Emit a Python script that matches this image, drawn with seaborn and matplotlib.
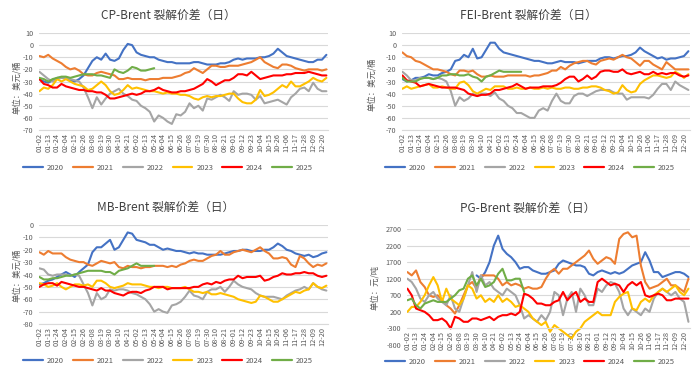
import numpy as np
import pandas as pd
import matplotlib
matplotlib.use("Agg")
import matplotlib.pyplot as plt
import seaborn as sns
from matplotlib.lines import Line2D

sns.set_theme(style="white")
plt.rcParams['font.family'] = ['Noto Sans CJK SC', 'DejaVu Sans']

# ---------------- data ----------------
years = ['2020', '2021', '2022', '2023', '2024', '2025']
colors = ['#4472C4', '#ED7D31', '#A5A5A5', '#FFC000', '#FF0000', '#70AD47']
xlabels = ['01-02', '01-13', '01-24', '02-04', '02-15', '02-26', '03-08', '03-19', '03-30',
           '04-10', '04-21', '05-02', '05-13', '05-24', '06-04', '06-15', '06-26', '07-08',
           '07-19', '07-30', '08-10', '08-21', '09-01', '09-12', '09-23', '10-04', '10-15',
           '10-26', '11-06', '11-17', '11-28', '12-09', '12-20']
label_step = 11      # days between x labels
sample_step = 5.5    # days between read points

# CP-Brent (USD/bbl)
cp_2020 = [-28, -30, -31, -29, -27, -27, -27, -29, -30, -28, -25, -19, -13, -10, -12, -7, -12, -13, -11, -4,
           1, 0, -6, -8, -9, -10, -10, -12, -13, -14, -14, -15, -15, -15, -15, -14, -14, -15, -16, -16,
           -16, -15, -15, -14, -12, -11, -12, -11, -11, -11, -10, -10, -9, -7, -3, -6, -9, -10, -11, -12,
           -13, -14, -14, -12, -12, -8]
cp_2021 = [-9, -10, -8, -11, -13, -15, -18, -20, -19, -21, -24, -25, -25, -23, -22, -23, -24, -25, -28, -28,
           -27, -28, -28, -28, -29, -28, -28, -28, -27, -27, -27, -26, -25, -23, -22, -19, -21, -23, -20, -17,
           -17, -18, -18, -17, -17, -17, -16, -15, -14, -12, -10, -14, -16, -18, -19, -16, -16, -17, -19, -20,
           -21, -20, -20, -20, -21, -20]
cp_2022 = [-22, -25, -28, -30, -28, -27, -27, -28, -29, -30, -35, -43, -52, -43, -49, -44, -40, -38, -36, -40,
           -42, -45, -46, -50, -52, -55, -63, -58, -60, -63, -65, -57, -58, -55, -48, -52, -50, -54, -44, -45,
           -43, -41, -43, -46, -38, -41, -40, -40, -41, -45, -42, -48, -47, -46, -45, -47, -49, -43, -40, -36,
           -35, -38, -31, -36, -38, -38]
cp_2023 = [-38, -35, -36, -33, -28, -30, -28, -30, -32, -33, -34, -37, -36, -33, -30, -33, -38, -41, -40, -37,
           -33, -36, -35, -36, -37, -38, -38, -39, -40, -39, -40, -40, -41, -41, -42, -44, -45, -43, -42, -43,
           -42, -42, -41, -40, -40, -44, -47, -48, -48, -45, -37, -42, -41, -39, -36, -33, -35, -30, -34, -34,
           -32, -30, -27, -29, -30, -27]
cp_2024 = [-28, -32, -33, -35, -35, -32, -34, -35, -36, -37, -37, -38, -38, -39, -39, -41, -44, -44, -43, -42,
           -41, -40, -41, -40, -38, -38, -37, -35, -37, -38, -39, -39, -38, -38, -37, -36, -34, -32, -28, -30,
           -33, -31, -29, -29, -27, -24, -24, -25, -22, -25, -28, -27, -26, -25, -25, -25, -24, -24, -23, -23,
           -23, -22, -23, -24, -25, -25]
cp_2025 = [-27, -28, -30, -28, -27, -26, -26, -27, -26, -25, -24, -24, -24, -25, -25, -26, -27, -20, -22, -23,
           -21, -18, -19, -21, -21, -20, -19]

# FEI-Brent (USD/bbl)
fei_2020 = [-28, -30, -29, -27, -27, -26, -24, -25, -25, -23, -22, -20, -13, -12, -8, -10, -3, -11, -10, -4,
            2, 2, -3, -6, -7, -8, -9, -10, -11, -12, -13, -13, -14, -15, -15, -14, -13, -14, -14, -14,
            -15, -14, -13, -13, -13, -11, -10, -10, -11, -10, -9, -9, -8, -6, -2, -5, -7, -9, -11, -10,
            -12, -11, -11, -10, -9, -5]
fei_2021 = [-6, -9, -10, -13, -14, -16, -18, -20, -20, -21, -22, -24, -25, -21, -21, -22, -21, -24, -26, -26,
            -25, -26, -26, -26, -25, -25, -25, -25, -25, -26, -25, -25, -24, -23, -21, -21, -18, -20, -17, -15,
            -14, -13, -13, -15, -16, -13, -12, -11, -12, -10, -8, -10, -11, -14, -17, -13, -13, -16, -18, -20,
            -14, -17, -20, -20, -20, -20]
fei_2022 = [-22, -25, -29, -29, -27, -27, -27, -28, -27, -28, -30, -38, -50, -43, -46, -44, -40, -42, -40, -40,
            -42, -39, -44, -46, -50, -52, -56, -56, -58, -60, -60, -54, -52, -54, -46, -40, -46, -48, -48, -42,
            -40, -40, -42, -40, -38, -37, -37, -37, -39, -40, -40, -45, -43, -43, -43, -43, -44, -41, -36, -32,
            -32, -37, -30, -33, -35, -37]
fei_2023 = [-36, -34, -36, -35, -34, -33, -32, -35, -35, -34, -35, -36, -36, -31, -30, -33, -38, -40, -38, -36,
            -37, -34, -34, -34, -36, -36, -35, -36, -36, -35, -36, -36, -35, -36, -35, -36, -36, -35, -35, -36,
            -36, -35, -35, -34, -34, -35, -37, -38, -40, -39, -33, -37, -39, -38, -32, -29, -27, -25, -25, -26,
            -27, -26, -22, -24, -27, -24]
fei_2024 = [-25, -29, -30, -31, -34, -33, -32, -33, -34, -35, -35, -35, -35, -36, -37, -40, -41, -42, -41, -41,
            -40, -37, -37, -36, -35, -34, -32, -34, -36, -35, -35, -35, -34, -34, -34, -33, -31, -28, -26, -26,
            -30, -28, -25, -28, -26, -22, -21, -21, -22, -22, -20, -23, -24, -23, -22, -24, -24, -22, -24, -23,
            -24, -23, -23, -25, -26, -25]
fei_2025 = [-27, -30, -30, -30, -28, -27, -27, -28, -27, -25, -25, -24, -24, -25, -25, -24, -26, -27, -30, -26,
            -25, -23, -21, -22, -22, -22, -22, -22]

# MB-Brent (USD/bbl)
mb_2020 = [-48, -47, -45, -44, -42, -40, -38, -40, -42, -38, -35, -32, -22, -18, -18, -15, -12, -20, -18, -12,
           -6, -7, -12, -13, -14, -16, -16, -18, -20, -19, -20, -21, -21, -22, -23, -22, -23, -23, -24, -24,
           -24, -24, -23, -22, -21, -21, -20, -20, -21, -21, -21, -20, -20, -18, -15, -17, -20, -21, -23, -24,
           -25, -24, -26, -25, -23, -22]
mb_2021 = [-22, -24, -21, -23, -23, -23, -26, -28, -29, -30, -30, -32, -33, -31, -29, -30, -31, -30, -34, -35,
           -33, -34, -34, -35, -34, -34, -33, -33, -33, -34, -33, -34, -32, -31, -29, -28, -29, -29, -27, -25,
           -24, -21, -24, -24, -22, -21, -20, -21, -22, -20, -18, -21, -23, -27, -27, -26, -27, -32, -34, -25,
           -27, -31, -34, -32, -33, -31]
mb_2022 = [-35, -36, -40, -41, -40, -40, -40, -41, -40, -41, -48, -55, -65, -55, -60, -58, -52, -53, -52, -52,
           -53, -55, -56, -58, -60, -64, -70, -68, -70, -71, -65, -64, -62, -58, -53, -57, -58, -60, -54, -52,
           -52, -50, -54, -50, -45, -48, -50, -51, -52, -55, -57, -58, -58, -58, -59, -60, -57, -55, -53, -52,
           -50, -52, -47, -50, -52, -53]
mb_2023 = [-47, -48, -50, -49, -47, -50, -52, -50, -48, -48, -49, -48, -50, -45, -45, -47, -50, -51, -50, -49,
           -47, -48, -48, -48, -49, -50, -50, -51, -50, -50, -51, -51, -51, -50, -52, -54, -54, -55, -54, -56,
           -56, -55, -56, -57, -58, -60, -61, -62, -63, -62, -57, -58, -60, -62, -62, -60, -58, -56, -54, -55,
           -53, -52, -47, -50, -51, -49]
mb_2024 = [-50, -48, -47, -47, -49, -46, -47, -48, -49, -50, -50, -51, -52, -53, -51, -53, -53, -55, -56, -57,
           -55, -54, -54, -55, -53, -52, -50, -50, -50, -52, -51, -51, -51, -51, -51, -50, -50, -48, -47, -48,
           -46, -47, -45, -44, -44, -41, -43, -42, -42, -42, -41, -45, -44, -42, -41, -39, -40, -40, -39, -39,
           -38, -39, -39, -41, -42, -41]
mb_2025 = [-42, -44, -44, -43, -43, -42, -41, -41, -40, -39, -38, -37, -37, -37, -37, -38, -38, -40, -37, -36,
           -35, -33, -31, -33, -33, -33, -33]

# PG-Brent (CNY/t); 2020 starts at read point 16
pg_2020_start = 16
pg_2020 = [1300, 1200, 1400, 1700, 2200, 2500, 2100, 1950, 1850, 1700, 1500, 1550, 1550, 1450, 1400, 1350,
           1350, 1400, 1450, 1650, 1750, 1700, 1650, 1600, 1600, 1550, 1350, 1300, 1400, 1450, 1400, 1350,
           1400, 1350, 1400, 1500, 1600, 1650, 1700, 2000, 1750, 1400, 1400, 1250, 1300, 1350, 1400, 1400,
           1350, 1250]
pg_2021 = [1400, 1300, 1450, 1100, 950, 700, 650, 700, 550, 400, 300, 150, 400, 700, 1000, 1100, 900, 1300,
           1300, 1300, 1300, 1200, 1000, 1100, 1000, 1050, 1000, 900, 950, 900, 900, 950, 1200, 1400, 1500,
           1350, 1500, 1500, 1600, 1700, 1800, 1900, 2050, 1800, 1650, 1750, 1850, 1800, 1650, 2400, 2550,
           2600, 2450, 2500, 1600, 1100, 900, 950, 1000, 1100, 1200, 1000, 1000, 900, 800, 1200]
pg_2022 = [1200, 1100, 900, 600, 500, 700, 800, 600, 500, 400, 700, 300, 200, 600, 1000, 1400, 800, 1300,
           1000, 1100, 900, 800, 700, 900, 800, 700, 400, 0, 100, 0, -100, 100, -50, 200, 800, 700, 100,
           600, 800, 200, 900, 700, 400, 400, 900, 800, 1000, 1100, 1050, 800, 300, 100, 300, 200, 100,
           300, 200, 600, 800, 900, 800, 700, 800, 600, 500, -100]
pg_2023 = [200, 350, 350, 500, 700, 1000, 1250, 1000, 500, 900, 600, 500, 400, 600, 1000, 900, 600, 700, 500,
           600, 500, 700, 500, 600, 500, 350, 400, 300, 200, 0, -100, -200, -100, -400, -200, -300, -400,
           -500, -600, -400, -300, -100, 0, 100, 200, 100, 100, 100, 500, 650, 750, 800, 300, 250, 500, 600,
           500, 700, 800, 900, 800, 900, 1000, 800, 700, 900]
pg_2024 = [900, 700, 300, 250, 200, 100, -50, -50, 0, -100, -300, 50, 0, -100, -100, 0, 0, -50, 0, 50, -50,
           50, 100, 100, 150, 100, 200, 750, 700, 600, 450, 450, 400, 400, 500, 550, 800, 550, 700, 800, 500,
           600, 500, 500, 1100, 1200, 1100, 1000, 1050, 1000, 800, 1000, 1100, 1000, 1100, 700, 650, 700,
           750, 700, 550, 550, 600, 600, 600, 600]
pg_2025 = [550, 600, 400, 300, 450, 500, 550, 500, 500, 500, 600, 700, 850, 900, 1200, 1300, 1000, 1200, 950,
           1000, 1100, 1350, 1500, 1150, 1150, 1200, 1200, 800]

panels = [
    dict(title='CP-Brent 裂解价差（日）', unit='单位：美元/桶',
         series=[(0, cp_2020), (0, cp_2021), (0, cp_2022), (0, cp_2023), (0, cp_2024), (0, cp_2025)],
         yticks=[-70, -60, -50, -40, -30, -20, -10, 0, 10], xaxis_at=-70),
    dict(title='FEI-Brent 裂解价差（日）', unit='单位：美元/桶',
         series=[(0, fei_2020), (0, fei_2021), (0, fei_2022), (0, fei_2023), (0, fei_2024), (0, fei_2025)],
         yticks=[-70, -60, -50, -40, -30, -20, -10, 0, 10], xaxis_at=-70),
    dict(title='MB-Brent 裂解价差（日）', unit='单位：美元/桶',
         series=[(0, mb_2020), (0, mb_2021), (0, mb_2022), (0, mb_2023), (0, mb_2024), (0, mb_2025)],
         yticks=[-80, -70, -60, -50, -40, -30, -20, -10, 0], xaxis_at=-80),
    dict(title='PG-Brent 裂解价差（日）', unit='单位：元/吨',
         series=[(pg_2020_start, pg_2020), (0, pg_2021), (0, pg_2022), (0, pg_2023), (0, pg_2024), (0, pg_2025)],
         yticks=[-800, -300, 200, 700, 1200, 1700, 2200, 2700], xaxis_at=-300),
]

# ---------------- layout (figure fractions) ----------------
W, H = 700, 374
def frac(l, t, r, b):
    return [l / W, 1 - b / H, (r - l) / W, (b - t) / H]

axes_boxes = [frac(39, 33, 328, 130), frac(402, 33, 690, 130),
              frac(39, 225, 328, 324), frac(407, 229, 690, 345)]
title_pos = [(168, 15), (528, 15), (166, 207), (528, 208)]
legend_pos = [(168, 168), (530, 168), (168, 361), (530, 362)]
unit_pos = [(17, 87), (372, 84), (17, 275), (375, 287)]

fig = plt.figure(figsize=(7.0, 3.74), dpi=100)
txt_color = '#595959'
grid_color = '#D9D9D9'

for p, box, tp, lp, up in zip(panels, axes_boxes, title_pos, legend_pos, unit_pos):
    ax = fig.add_axes(box)
    rows = []
    for yr, (start, vals) in zip(years, p['series']):
        for i, v in enumerate(vals):
            rows.append((yr, (start + i) * sample_step, v))
    df = pd.DataFrame(rows, columns=['year', 'day', 'value'])
    sns.lineplot(data=df, x='day', y='value', hue='year', hue_order=years,
                 palette=dict(zip(years, colors)), linewidth=1.5, legend=False, ax=ax,
                 estimator=None, sort=False)
    for s in ['top', 'right', 'left']:
        ax.spines[s].set_visible(False)
    ax.spines['bottom'].set_position(('data', p['xaxis_at']))
    ax.spines['bottom'].set_color(grid_color)
    ax.spines['bottom'].set_linewidth(0.8)
    ax.set_xlim(-0.5, 359.5)
    ax.set_ylim(p['yticks'][0], p['yticks'][-1])
    ax.set_yticks(p['yticks'])
    ax.set_yticklabels([str(t) for t in p['yticks']], fontsize=5.2, color=txt_color)
    ax.set_xticks([i * label_step for i in range(len(xlabels))])
    ax.set_xticklabels(xlabels, rotation=90, fontsize=5.3, color=txt_color)
    ax.set_xlabel('')
    ax.set_ylabel('')
    ax.yaxis.grid(True, color=grid_color, linewidth=0.8)
    ax.xaxis.grid(False)
    ax.set_axisbelow(True)
    ax.tick_params(axis='x', length=0, pad=2)
    ax.tick_params(axis='y', length=0, pad=4)
    ax.set_facecolor('white')

    fig.text(tp[0] / W, 1 - tp[1] / H, p['title'], ha='center', va='center',
             fontsize=8.5, color='#404040')
    fig.text(up[0] / W, 1 - up[1] / H, p['unit'], ha='center', va='center',
             rotation=90, fontsize=6, color=txt_color)
    handles = [Line2D([0], [0], color=c, linewidth=1.6) for c in colors]
    fig.legend(handles, years, loc='center', bbox_to_anchor=(lp[0] / W, 1 - lp[1] / H),
               ncol=6, frameon=False, fontsize=5.5, handlelength=2.6, columnspacing=1.2,
               handletextpad=0.5, labelcolor=txt_color)

fig.savefig('out.png', dpi=100, facecolor='white')
